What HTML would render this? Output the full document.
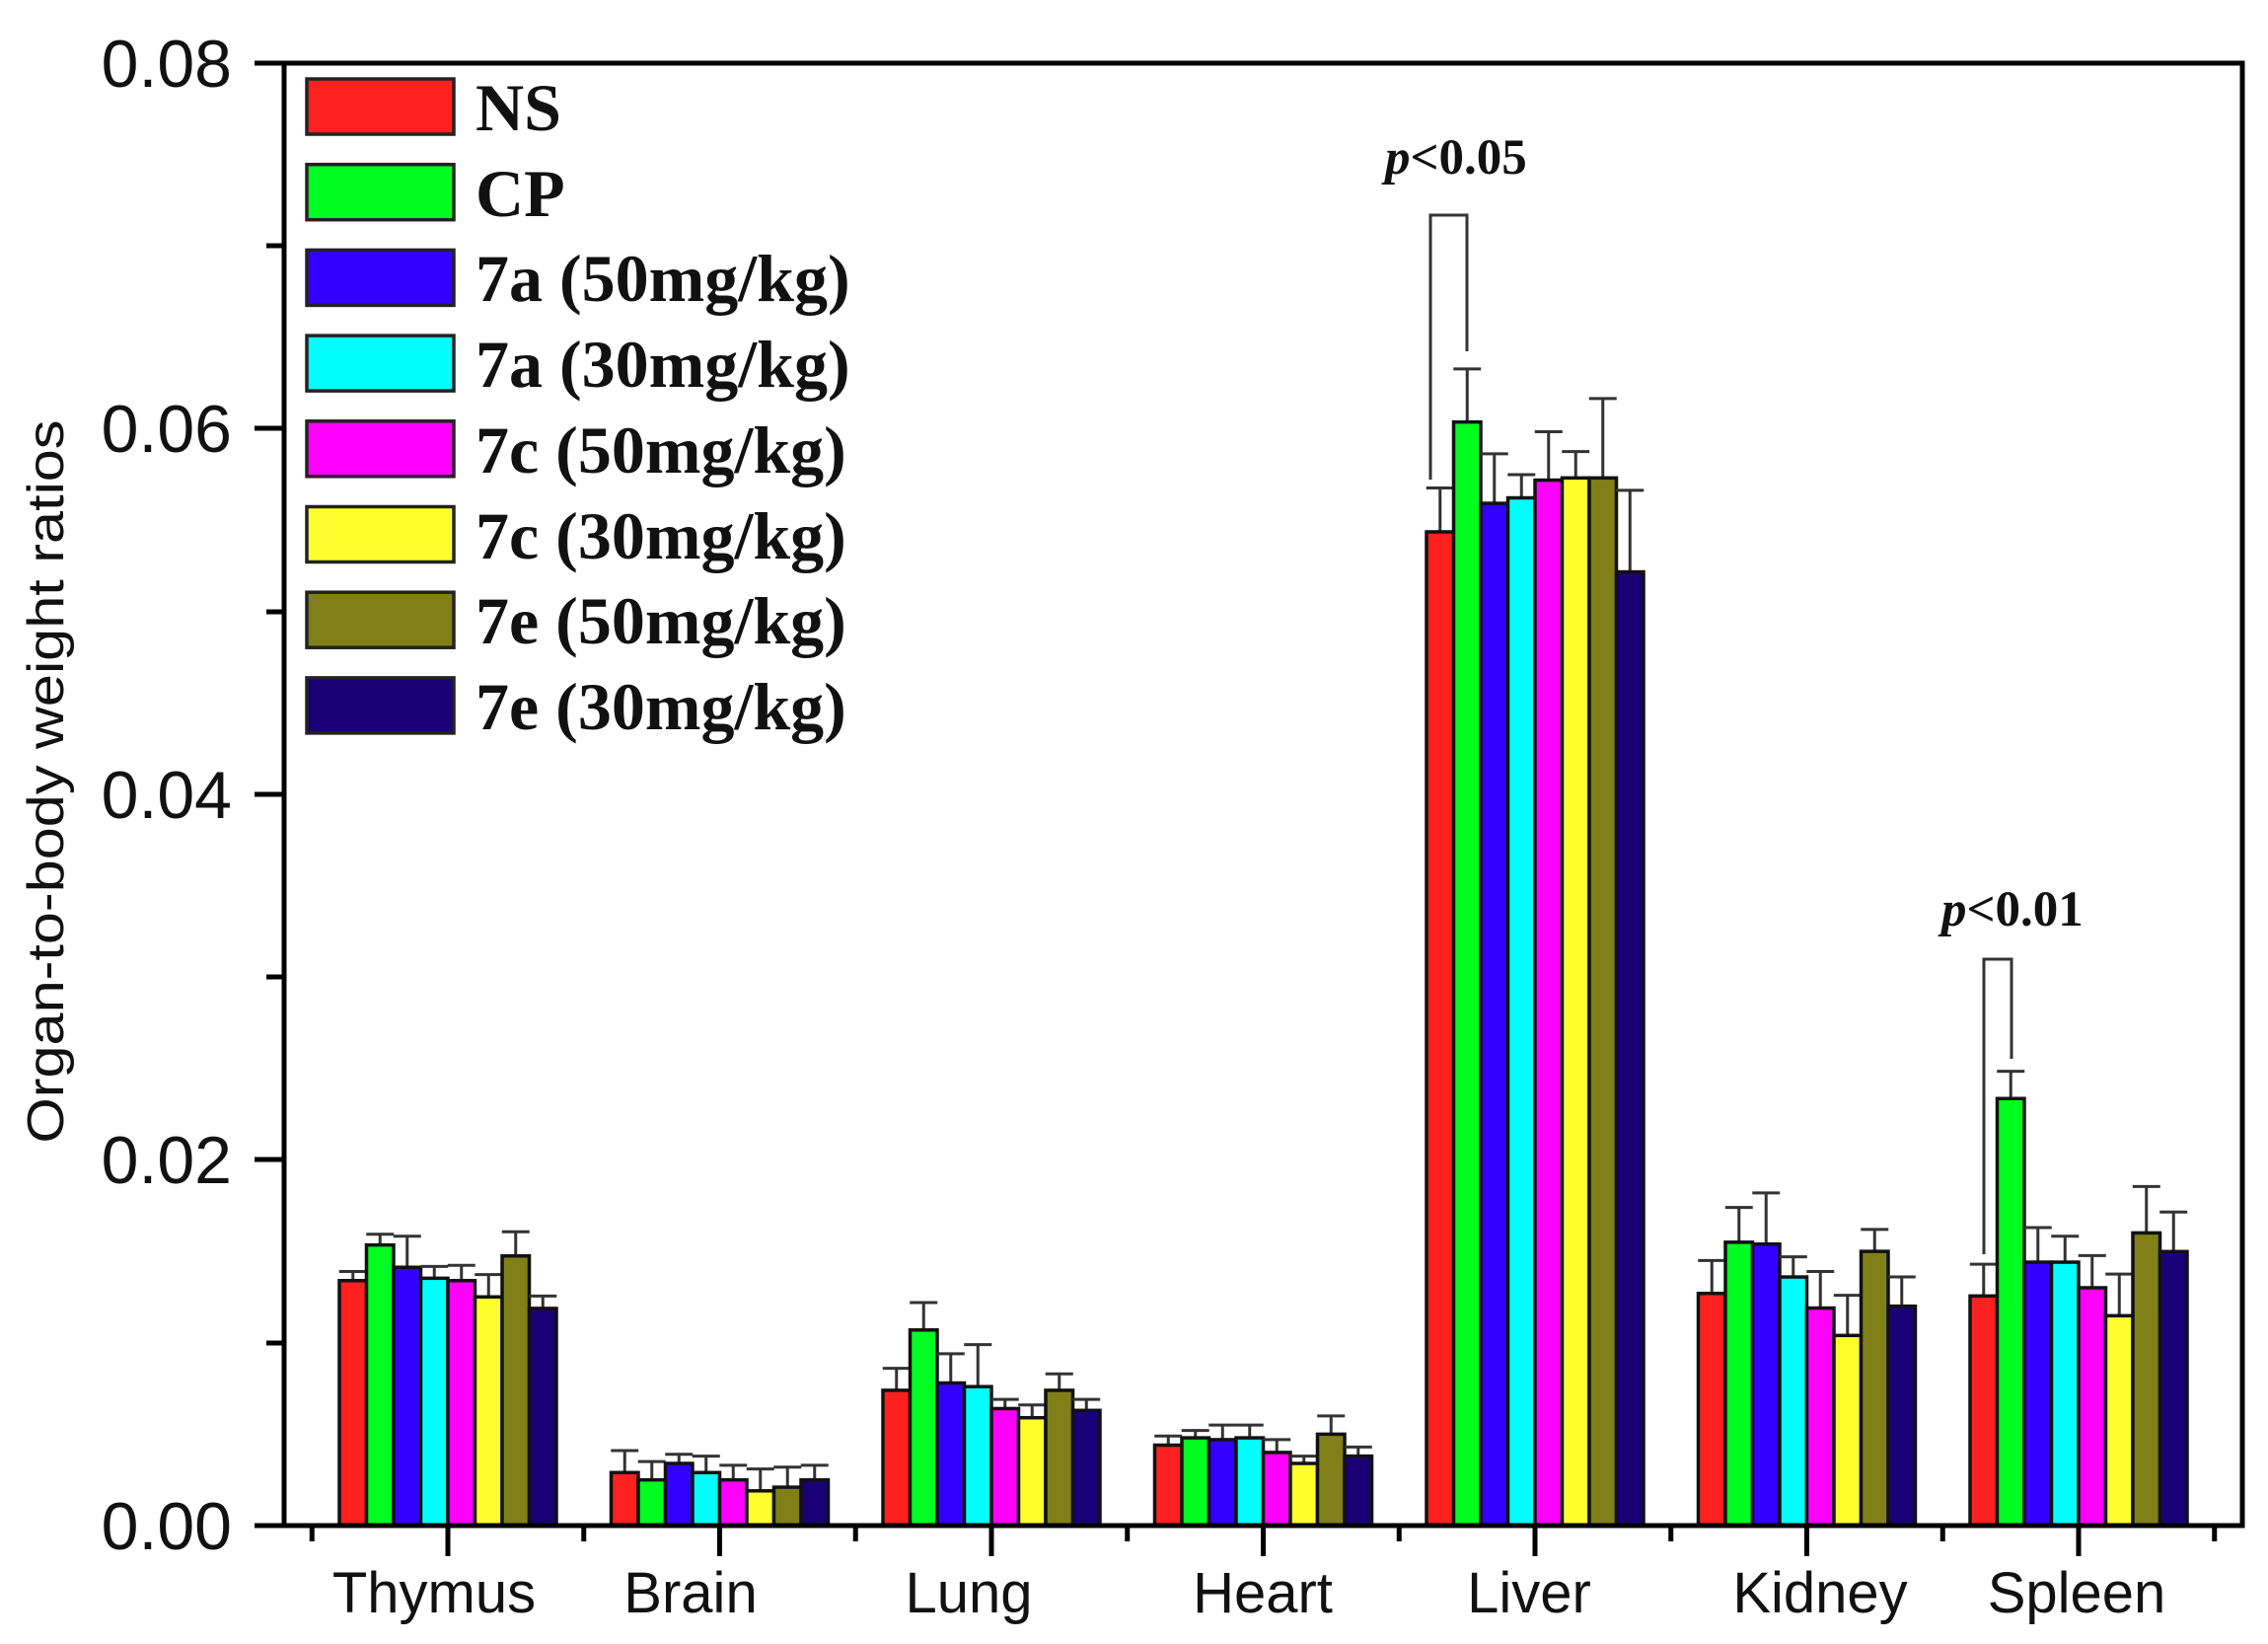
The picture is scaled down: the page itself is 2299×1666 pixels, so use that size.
<!DOCTYPE html>
<html><head><meta charset="utf-8"><style>
html,body{margin:0;padding:0;background:#fff;}
svg{display:block;}
.tk{font-family:"Liberation Sans",sans-serif;font-size:68px;fill:#111;}
.xl{font-family:"Liberation Sans",sans-serif;font-size:58px;fill:#111;}
.lg{font-family:"Liberation Serif",serif;font-size:68px;font-weight:bold;fill:#111;}
.pv{font-family:"Liberation Serif",serif;font-size:51px;font-weight:bold;fill:#111;}
</style></head><body>
<svg id="s" width="2299" height="1666" viewBox="0 0 2299 1666" xmlns="http://www.w3.org/2000/svg">
<rect width="2299" height="1666" fill="#fff"/>
<g id="bars"></g>
<rect x="288" y="64" width="1985" height="1482" fill="none" stroke="#000" stroke-width="5"/>
<g stroke="#000" stroke-width="5">
<line x1="258" y1="64" x2="288" y2="64"/><line x1="270" y1="249" x2="288" y2="249"/>
<line x1="258" y1="434" x2="288" y2="434"/><line x1="270" y1="620" x2="288" y2="620"/>
<line x1="258" y1="805" x2="288" y2="805"/><line x1="270" y1="990" x2="288" y2="990"/>
<line x1="258" y1="1175" x2="288" y2="1175"/><line x1="270" y1="1361" x2="288" y2="1361"/>
<line x1="258" y1="1546" x2="288" y2="1546"/>
</g>
<g id="xt" stroke="#000" stroke-width="5"></g>
<g class="tk" text-anchor="end">
<text x="235" y="88">0.08</text><text x="235" y="458">0.06</text>
<text x="235" y="829">0.04</text><text x="235" y="1199">0.02</text>
<text x="235" y="1570">0.00</text>
</g>
<text class="tk" style="font-size:52px" transform="translate(64,792) rotate(-90)" text-anchor="middle" textLength="733" lengthAdjust="spacingAndGlyphs">Organ-to-body weight ratios</text>
<g class="xl" text-anchor="middle">
<text x="440" y="1634">Thymus</text><text x="700" y="1634">Brain</text>
<text x="982" y="1634">Lung</text><text x="1280" y="1634">Heart</text>
<text x="1550" y="1634">Liver</text><text x="1845" y="1634">Kidney</text>
<text x="2105" y="1634">Spleen</text>
</g>
<g id="leg"></g>
<g class="lg">
<text x="482" y="132">NS</text><text x="482" y="219">CP</text>
<text x="482" y="305">7a (50mg/kg)</text><text x="482" y="392">7a (30mg/kg)</text>
<text x="482" y="479">7c (50mg/kg)</text><text x="482" y="566">7c (30mg/kg)</text>
<text x="482" y="652">7e (50mg/kg)</text><text x="482" y="739">7e (30mg/kg)</text>
</g>
<text class="pv" x="1404" y="176"><tspan font-style="italic">p</tspan>&lt;0.05</text>
<text class="pv" x="1968" y="938"><tspan font-style="italic">p</tspan>&lt;0.01</text>
<g stroke="#333" stroke-width="3" fill="none">
<polyline points="1450,486 1450,218 1487,218 1487,356"/>
<polyline points="2011,1271 2011,972 2039,972 2039,1073"/>
</g>
</svg>
<script>
var NS="http://www.w3.org/2000/svg";
var cols=["#ff2020","#00ff20","#3300ff","#00ffff","#ff00ff","#ffff30","#808018","#1a0077"];
var data=[
[[.0134,.0139],[.01535,.01594],[.01413,.01583],[.01353,.01418],[.0134,.01424],[.01251,.01373],[.01475,.01607],[.01188,.01256]],
[[.0029,.0041],[.0025,.0035],[.0034,.0039],[.0029,.0038],[.0025,.0033],[.0019,.0031],[.0021,.0032],[.0025,.0033]],
[[.0074,.0086],[.0107,.0122],[.0078,.0094],[.0076,.0099],[.0064,.0069],[.0059,.0066],[.0074,.0083],[.0063,.0069]],
[[.0044,.0049],[.0048,.0052],[.0047,.0055],[.0048,.0055],[.0040,.0047],[.0034,.0038],[.0050,.0060],[.0038,.0043]],
[[.05436,.05676],[.06037,.06327],[.05592,.05863],[.05622,.05749],[.05719,.05984],[.05731,.05875],[.05731,.06165],[.05217,.05663]],
[[.0127,.0145],[.0155,.0174],[.0154,.0182],[.0136,.0147],[.0119,.0139],[.0104,.0126],[.0150,.0162],[.0120,.0136]],
[[.01256,.0143],[.02336,.02485],[.01441,.0163],[.01441,.01583],[.01301,.01477],[.01148,.01376],[.01601,.01855],[.01499,.01715]]];
var g=document.getElementById("bars");
function el(t,a,p){var e=document.createElementNS(NS,t);for(var k in a)e.setAttribute(k,a[k]);p.appendChild(e);return e;}
for(var i=0;i<7;i++){var c=454+275.5*i;var x0=c-110;
 for(var j=0;j<8;j++){var v=data[i][j][0],e=data[i][j][1];var x=x0+27.5*j;var y=1546-v*18525;var ye=1546-e*18525;var cx=x+13.75;
  el("line",{x1:cx,y1:y,x2:cx,y2:ye,stroke:"#333","stroke-width":3},g);
  el("line",{x1:cx-14,y1:ye,x2:cx+14,y2:ye,stroke:"#333","stroke-width":3},g);
  el("rect",{x:x,y:y,width:27.5,height:1546-y,fill:cols[j],stroke:"#111","stroke-width":3.5},g);
 }}
var xt=document.getElementById("xt");
for(var i=0;i<7;i++){var c=454+275.5*i;el("line",{x1:c,y1:1546,x2:c,y2:1577},xt);}
for(var i=0;i<8;i++){var m=316.25+275.5*i;if(m<2280)el("line",{x1:m,y1:1546,x2:m,y2:1562},xt);}
var lg=document.getElementById("leg");
for(var j=0;j<8;j++){el("rect",{x:311,y:80+86.7*j,width:149,height:56,fill:cols[j],stroke:"#222","stroke-width":3.5},lg);}
</script>
</body></html>
